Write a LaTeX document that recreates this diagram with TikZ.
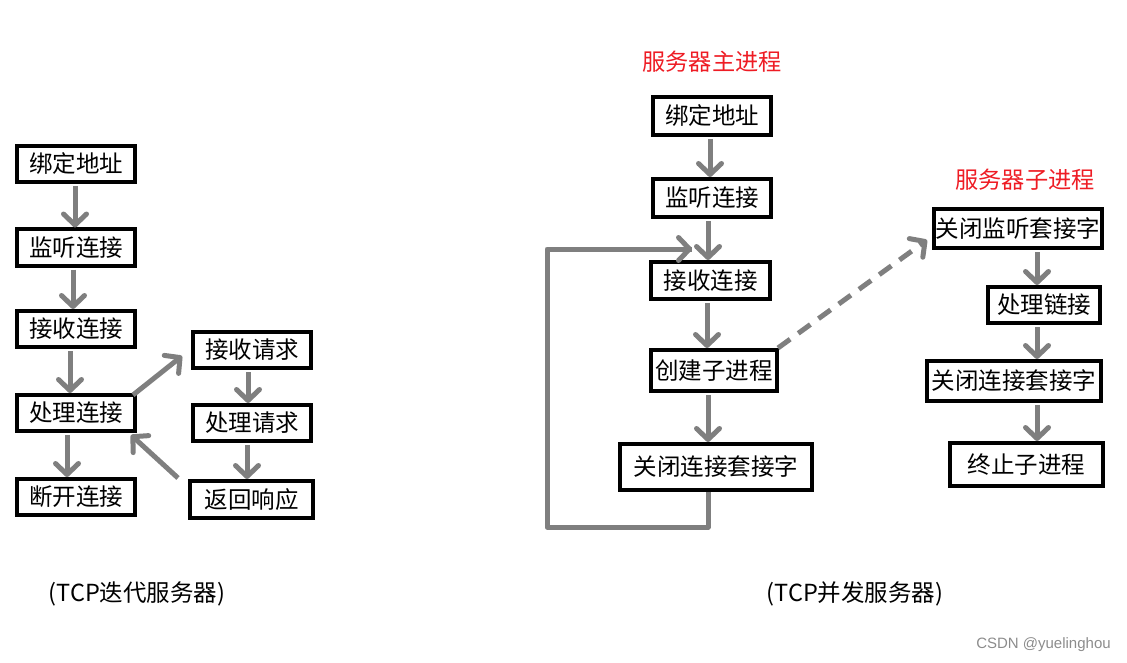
\documentclass[tikz,border=0pt]{standalone}
\usepackage{fontspec}
\setmainfont{Noto Sans CJK SC}
\newfontfamily\wmfont{Liberation Sans}
\usetikzlibrary{arrows.meta,calc}
\definecolor{arrgray}{HTML}{7F7F7F}
\definecolor{ttlred}{HTML}{EE1C24}
\tikzset{
  box/.style={draw=black, line width=4pt, fill=white, inner sep=0pt,
    font=\fontsize{23.5}{27}\selectfont},
  arr/.style={draw=arrgray, line width=5pt,
    -{Straight Barb[length=11pt,width=23pt,round]}},
  dasharr/.style={arr, dash pattern=on 15pt off 10pt},
  loopline/.style={draw=arrgray, line width=5pt},
  ttl/.style={text=ttlred, font=\fontsize{23.2}{27}\selectfont, inner sep=0pt},
  captext/.style={font=\fontsize{23.5}{27}\selectfont, inner sep=0pt},
}
\begin{document}
\begin{tikzpicture}[x=1pt,y=-1pt]
\useasboundingbox (0,0) rectangle (1127,663);
% left column
\node[box, minimum width=118pt, minimum height=36pt] (A1) at (76,164) {绑定地址};
\node[box, minimum width=118pt, minimum height=36pt] (A2) at (76,247.5) {监听连接};
\node[box, minimum width=118pt, minimum height=36pt] (A3) at (76,329) {接收连接};
\node[box, minimum width=118pt, minimum height=36pt] (A4) at (76,413) {处理连接};
\node[box, minimum width=118pt, minimum height=36pt] (A5) at (76,497) {断开连接};
\node[box, minimum width=118pt, minimum height=36pt] (B1) at (252,350) {接收请求};
\node[box, minimum width=118pt, minimum height=36pt] (B2) at (252,423) {处理请求};
\node[box, minimum width=123pt, minimum height=37pt] (B3) at (251.5,499.5) {返回响应};
\coordinate (xa1) at (75,0);
\coordinate (xa2) at (73,0);
\coordinate (xa3) at (70,0);
\coordinate (xa4) at (67,0);
\coordinate (xb1) at (248,0);
\coordinate (xb2) at (247,0);
\draw[arr] ($(A1.south -| xa1)+(0,2)$) -- (A2.north -| xa1);
\draw[arr] ($(A2.south -| xa2)+(0,2)$) -- (A3.north -| xa2);
\draw[arr] ($(A3.south -| xa3)+(0,2)$) -- (A4.north -| xa3);
\draw[arr] ($(A4.south -| xa4)+(0,2)$) -- (A5.north -| xa4);
\draw[arr] ($(B1.south -| xb1)+(0,2)$) -- (B2.north -| xb1);
\draw[arr] ($(B2.south -| xb2)+(0,2)$) -- (B3.north -| xb2);
\draw[arr] ($(A4.north east)+(-4,2)$) -- ($(B1.west)+(-9,6)$);
\draw[arr] ($(B3.north west)+(-10,-1)$) -- ($(A4.south east)+(-6,2)$);
% main process
\node[ttl] (T1) at (712,62) {服务器主进程};
\node[box, minimum width=118pt, minimum height=38pt] (M1) at (712,116) {绑定地址};
\node[box, minimum width=118pt, minimum height=38pt] (M2) at (712,198) {监听连接};
\node[box, minimum width=119pt, minimum height=37pt] (M3) at (710.5,280.5) {接收连接};
\node[box, minimum width=126pt, minimum height=41pt] (M4) at (714,370.5) {创建子进程};
\node[box, minimum width=192pt, minimum height=46pt] (M5) at (716,467) {关闭连接套接字};
\coordinate (xm1) at (710,0);
\coordinate (xm2) at (708,0);
\coordinate (xm3) at (707,0);
\draw[arr] ($(M1.south -| xm1)+(0,2)$) -- (M2.north -| xm1);
\draw[arr] ($(M2.south -| xm2)+(0,2)$) -- (M3.north -| xm2);
\draw[arr] ($(M3.south -| xm3)+(0,2)$) -- (M4.north -| xm3);
\draw[arr] ($(M4.south -| xm2)+(0,2)$) -- (M5.north -| xm2);
\coordinate (L1) at (708,527);
\coordinate (L2) at (547,527);
\coordinate (L3) at (547,249);
\coordinate (L4) at (692,249);
\draw[loopline, line join=round] (M5.south -| xm2) -- (L1) -- (L2) -- (L3) -- (L4);
\draw[arr] (L3) -- (L4);
% child process
\node[ttl] (T2) at (1025,180) {服务器子进程};
\node[box, minimum width=168pt, minimum height=39pt] (C1) at (1018,228.5) {关闭监听套接字};
\node[box, minimum width=112pt, minimum height=36pt] (C2) at (1044,305) {处理链接};
\node[box, minimum width=174pt, minimum height=40pt] (C3) at (1014,381) {关闭连接套接字};
\node[box, minimum width=153pt, minimum height=43pt] (C4) at (1026.5,464.5) {终止子进程};
\coordinate (xc) at (1037,0);
\draw[arr] ($(C1.south -| xc)+(0,2)$) -- (C2.north -| xc);
\draw[arr] ($(C2.south -| xc)+(0,2)$) -- (C3.north -| xc);
\draw[arr] ($(C3.south -| xc)+(0,2)$) -- (C4.north -| xc);
\draw[dasharr] ($(M4.north east)+(-1,0)$) -- ($(C1.south west)+(-5,-10)$);
% captions
\node[captext] (K1) at (137,594) {(TCP迭代服务器)};
\node[captext] (K2) at (855,594) {(TCP并发服务器)};
\node[font=\wmfont\fontsize{15}{17}\selectfont, text=black!45, inner sep=0pt] (W) at (1043.5,645) {CSDN @yuelinghou};
\end{tikzpicture}
\end{document}
